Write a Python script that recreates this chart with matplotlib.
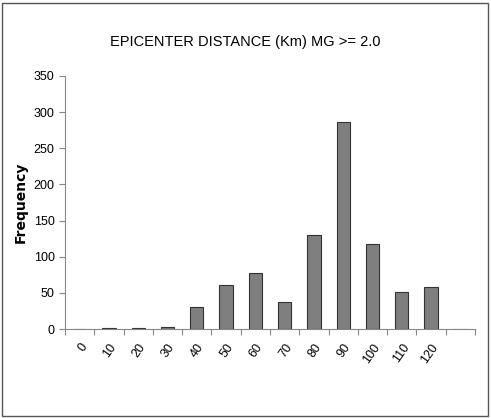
import matplotlib
matplotlib.use("Agg")
import matplotlib.pyplot as plt
from matplotlib.patches import Rectangle

categories = ["0","10","20","30","40","50","60","70","80","90","100","110","120",""]
values = [0,1,1,3,30,61,78,37,130,286,118,51,58,0]

fig = plt.figure(figsize=(4.91,4.18), dpi=100)
fig.patches.append(Rectangle((0.004,0.004),0.99,0.99,transform=fig.transFigure,fill=False,edgecolor="#555555",lw=1))
ax = fig.add_axes([65/491, 1-329/418, 410/491, 253/418])
x = list(range(len(categories)))
ax.bar(x, values, width=0.45, color="#7f7f7f", edgecolor="#333333", linewidth=0.8)
ax.set_xlim(-0.5, len(categories)-0.5)
ax.set_ylim(0,350)
ax.set_yticks(range(0,351,50))
ax.set_xticks([i-0.5 for i in range(len(categories)+1)], minor=False)
ax.set_xticklabels([])
ax.set_xticks(x, minor=True)
ax.set_xticklabels(categories, minor=True, rotation=55, ha="right", rotation_mode="anchor", fontsize=9, family="Liberation Sans")
ax.tick_params(axis="x", which="minor", length=0, pad=9)
ax.tick_params(axis="x", which="major", length=4, direction="out", color="#888888")
ax.tick_params(axis="y", labelsize=9, length=4, color="#888888")
for lbl in ax.get_yticklabels():
    lbl.set_family("Liberation Sans")
for s in ["top","right"]:
    ax.spines[s].set_visible(False)
ax.spines["left"].set_color("#888888")
ax.spines["bottom"].set_color("#888888")
ax.set_ylabel("Frequency", fontsize=10, fontweight="bold")
fig.text(0.5, 1-42/418, "EPICENTER DISTANCE (Km) MG >= 2.0", ha="center", va="center", fontsize=10.5, family="Liberation Sans")
fig.savefig("out.png", dpi=100)
